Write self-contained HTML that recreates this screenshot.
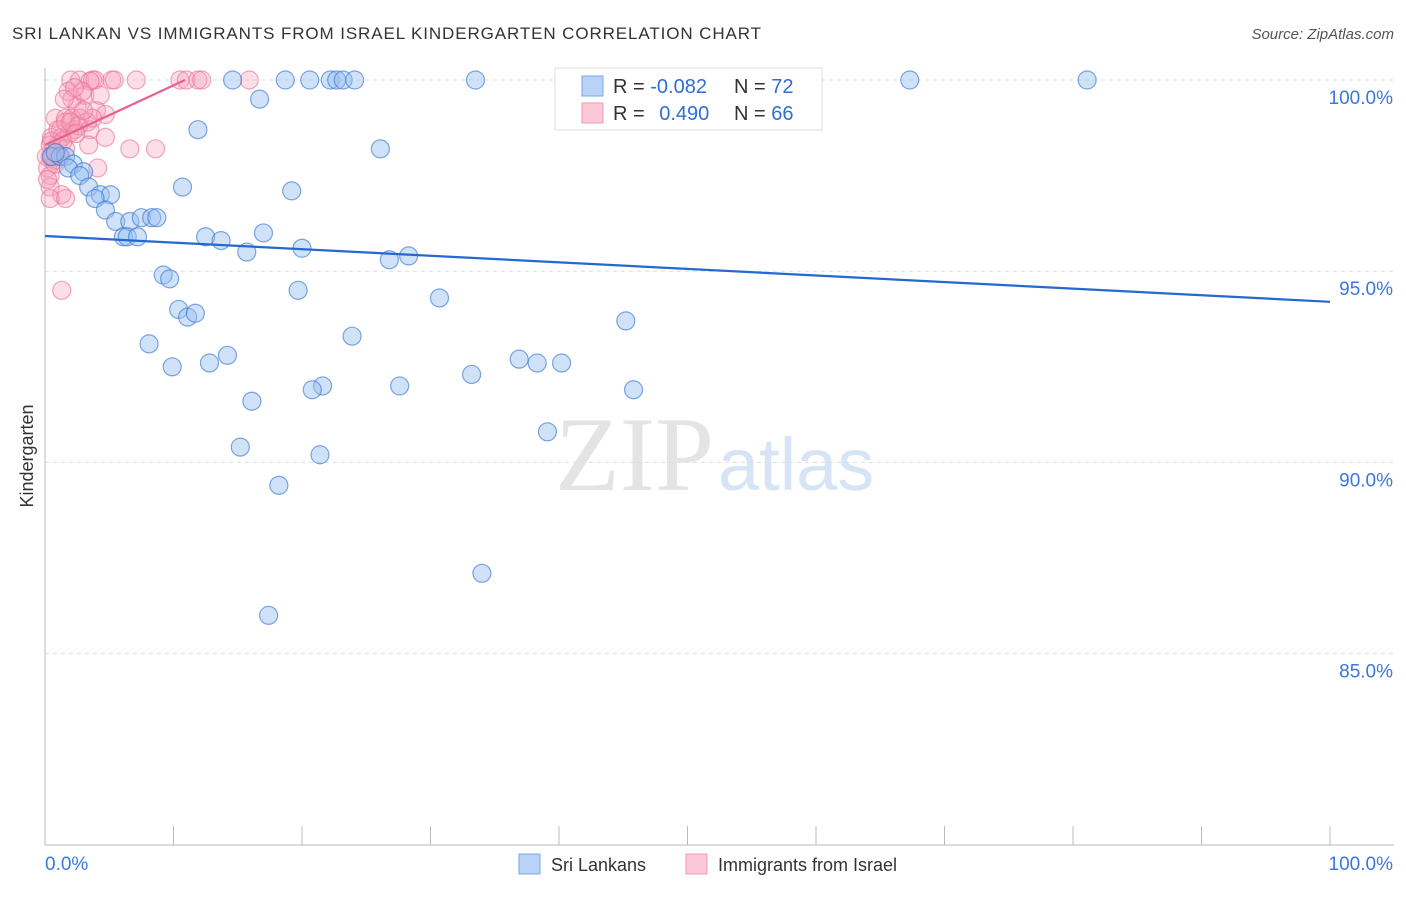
<!DOCTYPE html>
<html><head><meta charset="utf-8"><style>
body{margin:0;background:#fff;font-family:"Liberation Sans",sans-serif;}
svg text{font-family:"Liberation Sans",sans-serif;}
</style></head><body>
<svg id="chart" width="1406" height="892" xmlns="http://www.w3.org/2000/svg">
<text x="12" y="39" font-size="17" fill="#333" textLength="749" lengthAdjust="spacing">SRI LANKAN VS IMMIGRANTS FROM ISRAEL KINDERGARTEN CORRELATION CHART</text>
<text x="1394" y="39" font-size="15" fill="#555" text-anchor="end" font-style="italic">Source: ZipAtlas.com</text>
<text x="33" y="456" font-size="18" fill="#333" text-anchor="middle" transform="rotate(-90 33 456)">Kindergarten</text>
<text x="555" y="490" font-size="106" fill="#e4e4e4" style="font-family:'Liberation Serif',serif">ZIP</text>
<text x="718" y="490" font-size="74" fill="#d6e4f5">atlas</text>
<g id="grid"></g><g id="axes"></g><g id="pts"></g><g id="trend"></g>
<g>
<rect x="555" y="68" width="267" height="62" fill="#fff" stroke="#ddd"/>
<rect x="582" y="76" width="21" height="20" fill="#b8d3f5" stroke="#7aa7e6"/>
<rect x="582" y="103" width="21" height="20" fill="#fcc7d6" stroke="#f09ab4"/>
<text x="613" y="93" font-size="20" fill="#333">R = <tspan fill="#2d6fd6">-0.082</tspan></text>
<text x="734" y="93" font-size="20" fill="#333">N = <tspan fill="#2d6fd6">72</tspan></text>
<text x="613" y="120" font-size="20" fill="#333">R = <tspan fill="#2d6fd6" dx="9">0.490</tspan></text>
<text x="734" y="120" font-size="20" fill="#333">N = <tspan fill="#2d6fd6">66</tspan></text>
</g>
<g>
<rect x="519" y="854" width="21" height="20" fill="#b8d3f5" stroke="#7aa7e6"/>
<text x="551" y="871" font-size="18" fill="#333">Sri Lankans</text>
<rect x="686" y="854" width="21" height="20" fill="#fcc7d6" stroke="#f09ab4"/>
<text x="718" y="871" font-size="18" fill="#333">Immigrants from Israel</text>
</g>
</svg>
<script>
const yTicks=[100,95,90,85];
const yTickLabels=["100.0%","95.0%","90.0%","85.0%"];
const blueX=[14.6,18.7,20.6,22.2,22.7,23.2,24.1,33.5,41.6,67.3,81.1,16.7,11.9,26.1,10.7,19.2,0.5,1.2,1.6,2.2,1.8,3.0,2.7,3.4,4.3,5.1,3.9,4.7,5.5,6.6,7.5,8.3,8.7,6.1,6.4,7.2,12.5,13.7,17.0,15.7,20.0,26.8,28.3,9.2,9.7,19.7,30.7,10.4,11.1,11.7,45.2,8.1,23.9,14.2,12.8,9.9,36.9,38.3,40.2,33.2,27.6,21.6,20.8,45.8,16.1,39.1,15.2,21.4,18.2,34.0,17.4,0.8];
const blueY=[100,100,100,100,100,100,100,100,100,100,100,99.5,98.7,98.2,97.2,97.1,98.0,98.0,98.0,97.8,97.7,97.6,97.5,97.2,97.0,97.0,96.9,96.6,96.3,96.3,96.4,96.4,96.4,95.9,95.9,95.9,95.9,95.8,96.0,95.5,95.6,95.3,95.4,94.9,94.8,94.5,94.3,94.0,93.8,93.9,93.7,93.1,93.3,92.8,92.6,92.5,92.7,92.6,92.6,92.3,92.0,92.0,91.9,91.9,91.6,90.8,90.4,90.2,89.4,87.1,86.0,98.1];
const pinkX=[2.0,2.7,3.7,3.9,5.2,5.4,7.1,10.5,11.0,11.9,12.2,15.9,3.5,1.8,3.1,2.5,4.0,0.8,1.6,2.1,2.7,4.7,3.3,1.2,2.3,3.5,4.7,0.5,1.3,1.9,0.4,1.0,3.4,6.6,8.6,1.6,0.4,0.8,0.2,4.1,0.4,0.4,1.3,0.4,1.6,1.3,2.1,2.9,1.0,1.6,3.7,0.1,0.5,1.1,0.8,0.2,2.3,1.5,4.3,2.0,2.6,0.9,3.0,1.4,2.4,0.6];
const pinkY=[100,100,100,100,100,100,100,100,100,100,100,100,99.97,99.7,99.6,99.3,99.2,99.0,99.0,99.0,99.0,99.1,98.9,98.7,98.7,98.7,98.5,98.5,98.5,98.6,98.3,98.3,98.3,98.2,98.2,98.2,98.0,97.9,97.7,97.7,97.5,97.2,97.0,96.9,96.9,94.5,99.5,99.7,98.7,98.9,99.0,98.0,98.4,98.0,97.8,97.4,99.8,99.5,99.6,98.9,98.8,98.1,99.2,98.4,98.6,98.0];
const blueTrendX=[0,100], blueTrendY=[95.92,94.2];
const pinkTrendX=[0,10.9], pinkTrendY=[98.3,100];
const NS="http://www.w3.org/2000/svg";
const X0=45,X1=1330,YT=80,PX5=191.2;
const xs=p=>X0+(X1-X0)*p/100;
const ys=v=>YT+(100-v)*PX5/5;
function mk(tag,attrs,parent){const e=document.createElementNS(NS,tag);for(const k in attrs)e.setAttribute(k,attrs[k]);parent.appendChild(e);return e;}
const grid=document.getElementById('grid'),axes=document.getElementById('axes');
yTicks.forEach((t,i)=>{
  const l=mk('line',{x1:X0,x2:1394,y1:ys(t),y2:ys(t),stroke:'#ddd','stroke-dasharray':'4,4'},grid);
  
  
  const tx=mk('text',{x:1393,y:ys(t)+24,'font-size':19,fill:'#3b78d8','text-anchor':'end'},axes);
  tx.textContent=yTickLabels[i];
  
  
});
mk('line',{x1:X0,x2:X0,y1:68,y2:845,stroke:'#bbb'},axes);
mk('line',{x1:X0,x2:1394,y1:845,y2:845,stroke:'#bbb'},axes);
for(let i=0;i<=10;i++){mk('line',{x1:xs(i*10),x2:xs(i*10),y1:826,y2:845,stroke:'#bbb'},axes);}
const xl=mk('text',{x:45,y:870,'font-size':19,fill:'#3b78d8'},axes);xl.textContent='0.0%';


const xr=mk('text',{x:1393,y:870,'font-size':19,fill:'#3b78d8','text-anchor':'end'},axes);xr.textContent='100.0%';


const pts=document.getElementById('pts');
pinkX.forEach((x,i)=>{const c=mk('circle',{cx:xs(x),cy:ys(pinkY[i]),r:9,fill:'rgba(246,160,186,0.35)',stroke:'rgba(234,110,150,0.6)','stroke-width':1.2},pts);

});
blueX.forEach((x,i)=>{const c=mk('circle',{cx:xs(x),cy:ys(blueY[i]),r:9,fill:'rgba(150,190,240,0.45)',stroke:'rgba(60,120,210,0.65)','stroke-width':1.2},pts);

});
const tr=document.getElementById('trend');
const bt=mk('line',{x1:xs(blueTrendX[0]),y1:ys(blueTrendY[0]),x2:xs(blueTrendX[1]),y2:ys(blueTrendY[1]),stroke:'#2468d0','stroke-width':2.2},tr);


const pt=mk('line',{x1:xs(pinkTrendX[0]),y1:ys(pinkTrendY[0]),x2:xs(pinkTrendX[1]),y2:ys(pinkTrendY[1]),stroke:'#e8608c','stroke-width':2.2},tr);


</script>
</body></html>
